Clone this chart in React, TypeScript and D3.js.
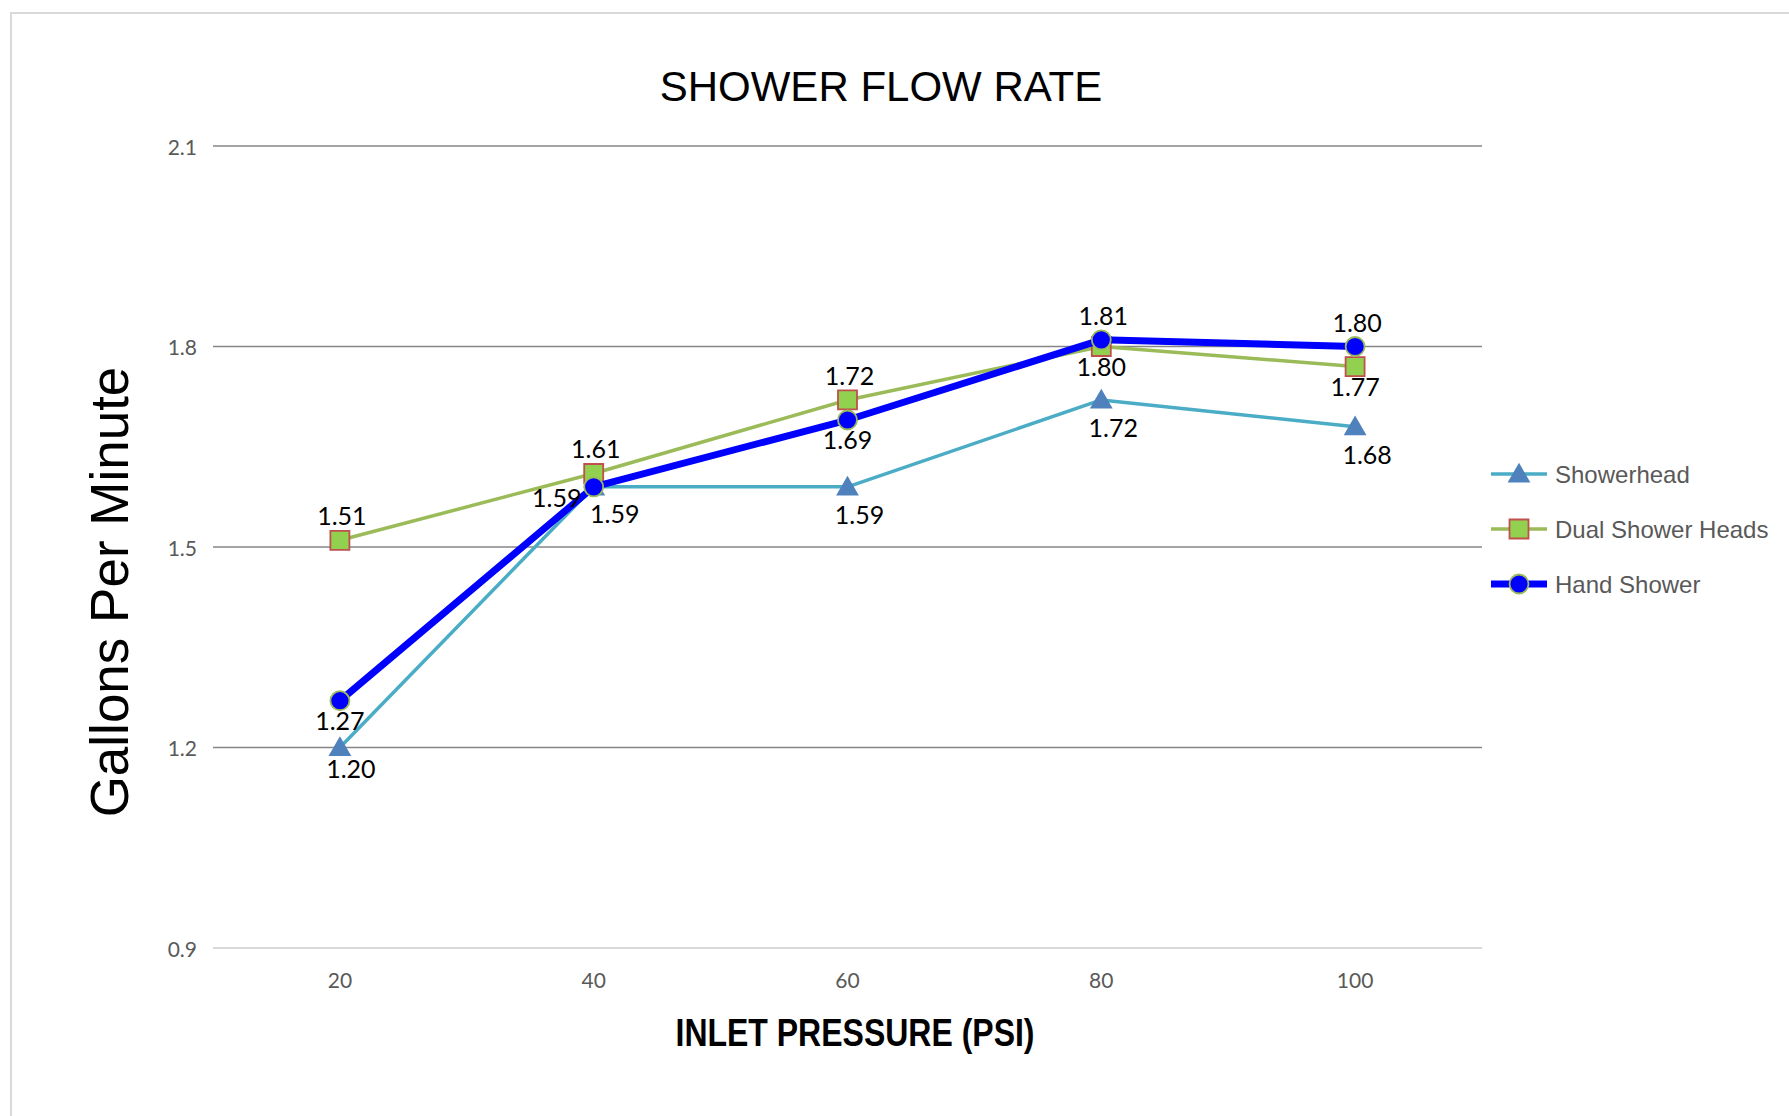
import React from "react";
import * as d3 from "d3";

const categories = ["20", "40", "60", "80", "100"];
const showerhead = [1.2, 1.59, 1.59, 1.72, 1.68];
const dualShowerHeads = [1.51, 1.61, 1.72, 1.8, 1.77];
const handShower = [1.27, 1.59, 1.69, 1.81, 1.8];
const yTicks = [0.9, 1.2, 1.5, 1.8, 2.1];
const seriesNames = ["Showerhead", "Dual Shower Heads", "Hand Shower"];
const showerheadLabelPos = ["brNear", "brFar", "br", "br", "br"];
const dualLabelPos = ["above", "above", "above", "below", "below"];
const handLabelPos = ["below", "left", "below", "above", "above"];

const W = 1789;
const H = 1116;
const plot = { left: 213, right: 1482, top: 146, bottom: 948 };

const labelOffsets: Record<string, [number, number]> = {
  above: [2, -25],
  below: [0, 19],
  br: [12, 27],
  brNear: [11, 20],
  brFar: [21, 26],
  left: [-37, 10],
};

type Series = {
  name: string;
  values: number[];
  labelPos: string[];
  lineColor: string;
  lineWidth: number;
  marker: "triangle" | "square" | "circle";
};

const series: Series[] = [
  { name: seriesNames[0], values: showerhead, labelPos: showerheadLabelPos, lineColor: "#4BACC6", lineWidth: 3.5, marker: "triangle" },
  { name: seriesNames[1], values: dualShowerHeads, labelPos: dualLabelPos, lineColor: "#9BBB59", lineWidth: 3.5, marker: "square" },
  { name: seriesNames[2], values: handShower, labelPos: handLabelPos, lineColor: "#0000FF", lineWidth: 7, marker: "circle" },
];

const triPath = d3.symbol(d3.symbolTriangle, 225)() as string;
const sqPath = d3.symbol(d3.symbolSquare, 361)() as string;

function Marker({ kind, x, y }: { kind: string; x: number; y: number }) {
  if (kind === "triangle")
    return <path d={triPath} transform={`translate(${x},${y + 2})`} fill="#4F81BD" />;
  if (kind === "square")
    return <path d={sqPath} transform={`translate(${x},${y})`} fill="#92D050" stroke="#C0504D" strokeWidth={1.8} />;
  return <circle cx={x} cy={y} r={9.5} fill="#0000FF" stroke="#9BBB59" strokeWidth={1.8} />;
}

export default function App() {
  const x = d3.scalePoint<string>().domain(categories).range([plot.left, plot.right]).padding(0.5);
  const y = d3.scaleLinear().domain([0.9, 2.1]).range([plot.bottom, plot.top]);
  const line = d3
    .line<number>()
    .x((_, i) => x(categories[i]) as number)
    .y((v) => y(v));

  const labelFont = "Lato, 'Open Sans', 'Liberation Sans', sans-serif";
  const arial = "'Liberation Sans', Arial, sans-serif";

  return (
    <svg
      width={W}
      height={H}
      viewBox={`0 0 ${W} ${H}`}
      style={{ position: "absolute", left: 0, top: 0, background: "#fff" }}
    >
      <rect x={0} y={0} width={W} height={H} fill="#fff" />
      <rect x={11} y={13} width={W + 20} height={H + 20} fill="#fff" stroke="#d9d9d9" strokeWidth={2} />

      {/* title */}
      <text x={881} y={101} textAnchor="middle" fontFamily={arial} fontSize={42} fill="#000">
        SHOWER FLOW RATE
      </text>

      {/* gridlines */}
      {yTicks.map((t, i) => (
        <line
          key={"g" + i}
          x1={plot.left}
          x2={plot.right}
          y1={y(t)}
          y2={y(t)}
          stroke={i === 0 ? "#d9d9d9" : "#868686"}
          strokeWidth={i === 0 ? 2 : 1.5}
        />
      ))}
      {yTicks.map((t, i) => (
        <text
          key={"yt" + i}
          x={197}
          y={y(t)}
          textAnchor="end"
          dominantBaseline="central"
          fontFamily={labelFont}
          fontSize={21}
          fill="#595959"
        >
          {d3.format(".1f")(t)}
        </text>
      ))}
      {categories.map((c) => (
        <text
          key={"xt" + c}
          x={x(c) as number}
          y={979}
          textAnchor="middle"
          dominantBaseline="central"
          fontFamily={labelFont}
          fontSize={21}
          fill="#595959"
        >
          {c}
        </text>
      ))}

      {/* axis titles */}
      <text
        x={855}
        y={1046}
        textAnchor="middle"
        fontFamily="'Liberation Sans Narrow', 'Arial Narrow', 'Liberation Sans', sans-serif"
        fontWeight="bold"
        fontSize={38}
        textLength={359}
        lengthAdjust="spacingAndGlyphs"
        fill="#000"
      >
        INLET PRESSURE (PSI)
      </text>
      <text
        transform="translate(128,592) rotate(-90)"
        textAnchor="middle"
        fontFamily={arial}
        fontSize={53}
        fill="#000"
      >
        Gallons Per Minute
      </text>

      {/* series */}
      {series.map((s) => (
        <g key={s.name}>
          <path d={line(s.values) as string} fill="none" stroke={s.lineColor} strokeWidth={s.lineWidth} strokeLinejoin="round" />
          {s.values.map((v, i) => (
            <Marker key={i} kind={s.marker} x={x(categories[i]) as number} y={y(v)} />
          ))}
        </g>
      ))}

      {/* data labels */}
      {series.map((s) =>
        s.values.map((v, i) => {
          const [dx, dy] = labelOffsets[s.labelPos[i]];
          return (
            <text
              key={s.name + "l" + i}
              x={(x(categories[i]) as number) + dx}
              y={y(v) + dy}
              textAnchor="middle"
              dominantBaseline="central"
              fontFamily={labelFont}
              fontSize={25}
              fill="#000"
            >
              {d3.format(".2f")(v)}
            </text>
          );
        })
      )}

      {/* legend */}
      {series.map((s, i) => {
        const ly = 474 + i * 55;
        return (
          <g key={"lg" + i}>
            <line x1={1491} x2={1547} y1={ly} y2={ly} stroke={s.lineColor} strokeWidth={s.lineWidth === 7 ? 7 : 3.5} />
            <Marker kind={s.marker} x={1519} y={ly} />
            <text x={1555} y={ly} dominantBaseline="central" fontFamily={arial} fontSize={24} fill="#595959">
              {s.name}
            </text>
          </g>
        );
      })}
    </svg>
  );
}
